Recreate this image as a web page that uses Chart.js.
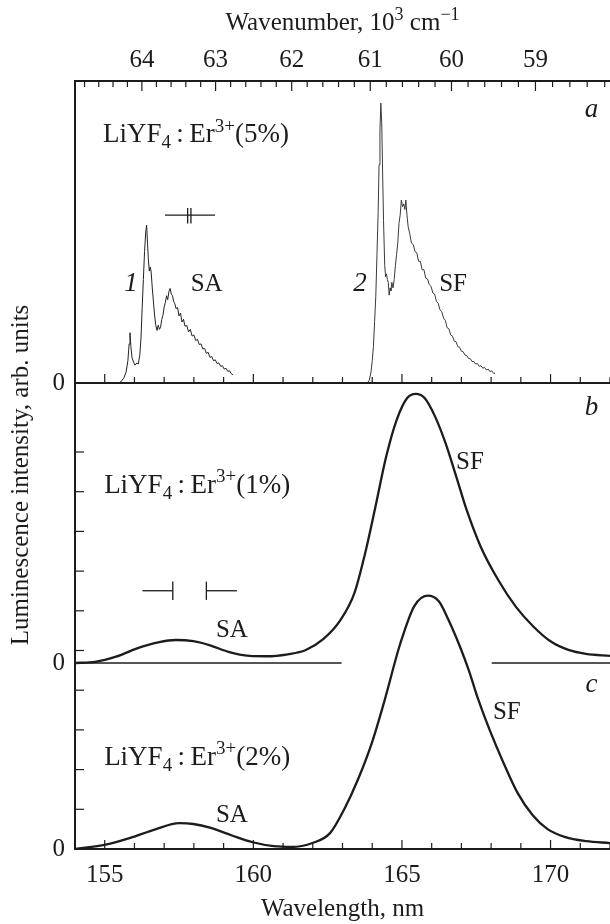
<!DOCTYPE html>
<html lang="en">
<head>
<meta charset="UTF-8" />
<title>LiYF4:Er3+ luminescence</title>
<script src="https://cdn.jsdelivr.net/npm/chart.js"></script>
<style>
  html, body { margin: 0; padding: 0; background: #fff; }
  #wrap { width: 610px; height: 924px; }
</style>
</head>
<body>
<div id="wrap"><canvas id="chart" width="610" height="924"></canvas></div>
<script>
// ---- data (wavelength in nm, intensity in arb. units) ----
// panel a, LiYF4:Er3+ (5%): curve 1 (SA) and curve 2 (SF), scaled to the peak of 2
const aWl1 = [155.45, 155.55, 155.65, 155.72, 155.78, 155.82, 155.85, 155.88, 155.92, 155.97,
  156.02, 156.08, 156.13, 156.18, 156.22, 156.26, 156.3, 156.34, 156.38, 156.41,
  156.44, 156.47, 156.5, 156.53, 156.56, 156.6, 156.64, 156.68, 156.72, 156.76,
  156.8, 156.84, 156.88, 156.92, 156.96, 157.0, 157.04, 157.08, 157.12, 157.16,
  157.2, 157.24, 157.28, 157.32, 157.36, 157.4, 157.45, 157.5, 157.55, 157.6,
  157.65, 157.7, 157.76, 157.82, 157.88, 157.94, 158.0, 158.06, 158.12, 158.18,
  158.24, 158.3, 158.36, 158.42, 158.48, 158.54, 158.6, 158.66, 158.72, 158.78,
  158.84, 158.9, 158.96, 159.02, 159.08, 159.14, 159.2, 159.26, 159.32];
const aInt1 = [0, 0.005, 0.02, 0.04, 0.08, 0.14, 0.18, 0.13, 0.09, 0.075,
  0.064, 0.072, 0.068, 0.1, 0.16, 0.27, 0.37, 0.47, 0.54, 0.564,
  0.5, 0.44, 0.4, 0.415, 0.4, 0.34, 0.29, 0.24, 0.205, 0.188,
  0.207, 0.192, 0.2, 0.228, 0.242, 0.272, 0.288, 0.312, 0.298, 0.327,
  0.338, 0.318, 0.312, 0.292, 0.283, 0.266, 0.27, 0.24, 0.25, 0.218,
  0.228, 0.203, 0.206, 0.183, 0.192, 0.168, 0.172, 0.152, 0.156, 0.138,
  0.14, 0.122, 0.124, 0.106, 0.11, 0.092, 0.095, 0.08, 0.083, 0.07,
  0.072, 0.06, 0.062, 0.05, 0.053, 0.042, 0.044, 0.033, 0.03];
const aWl2 = [163.83, 163.9, 163.96, 164.0, 164.04, 164.08, 164.12, 164.16, 164.2, 164.23,
  164.26, 164.29, 164.32, 164.35, 164.38, 164.42, 164.45, 164.48, 164.51, 164.54,
  164.57, 164.6, 164.63, 164.66, 164.7, 164.74, 164.78, 164.82, 164.86, 164.9,
  164.94, 164.98, 165.02, 165.06, 165.1, 165.13, 165.17, 165.21, 165.26, 165.32,
  165.38, 165.44, 165.5, 165.56, 165.62, 165.68, 165.74, 165.8, 165.86, 165.92,
  165.98, 166.04, 166.1, 166.16, 166.22, 166.28, 166.34, 166.4, 166.46, 166.52,
  166.58, 166.64, 166.7, 166.76, 166.82, 166.88, 166.94, 167.0, 167.06, 167.12,
  167.18, 167.24, 167.3, 167.36, 167.42, 167.48, 167.54, 167.6, 167.66, 167.72,
  167.78, 167.84, 167.9, 167.96, 168.02, 168.08, 168.13];
const aInt2 = [0, 0.01, 0.04, 0.08, 0.13, 0.22, 0.31, 0.46, 0.61, 0.78,
  0.9, 1.0, 0.93, 0.75, 0.58, 0.42, 0.38, 0.39, 0.37, 0.36,
  0.314, 0.34, 0.33, 0.36, 0.34, 0.37, 0.42, 0.46, 0.5, 0.57,
  0.6, 0.654, 0.63, 0.64, 0.62, 0.654, 0.6, 0.558, 0.535, 0.5,
  0.495, 0.47, 0.465, 0.435, 0.435, 0.405, 0.405, 0.375, 0.372, 0.352,
  0.345, 0.322, 0.318, 0.292, 0.285, 0.262, 0.255, 0.232, 0.224, 0.198,
  0.194, 0.172, 0.168, 0.15, 0.148, 0.13, 0.128, 0.114, 0.112, 0.1,
  0.098, 0.088, 0.087, 0.077, 0.077, 0.068, 0.07, 0.06, 0.062, 0.053,
  0.056, 0.047, 0.05, 0.041, 0.044, 0.035, 0.035];

// panel b, LiYF4:Er3+ (1%)
const bWl = [154.0, 154.68, 155.38, 156.09, 156.8, 157.39, 157.98, 158.57, 159.16, 159.87,
  160.45, 161.16, 161.75, 162.35, 162.93, 163.4, 163.76, 164.11, 164.47,
  164.82, 165.17, 165.47, 165.77, 166.12, 166.47, 166.83, 167.18, 167.65, 168.24,
  168.83, 169.42, 170.01, 170.6, 171.19, 172.0];
const bInt = [0, 0.03, 0.16, 0.37, 0.52, 0.58, 0.55, 0.44, 0.28, 0.18,
  0.17, 0.22, 0.32, 0.6, 1.08, 1.76, 2.76, 3.94, 5.2,
  6.12, 6.67, 6.78, 6.67, 6.2, 5.53, 4.69, 3.85, 2.93, 2.09,
  1.42, 0.92, 0.54, 0.33, 0.23, 0.18];

// panel c, LiYF4:Er3+ (2%)
const cWl = [154.0, 155.03, 155.86, 156.68, 157.51, 157.98, 158.57, 159.28, 159.98, 160.69,
  161.28, 161.99, 162.58, 163.05, 163.52, 164.0, 164.4, 164.88, 165.06, 165.41,
  165.86, 166.24, 166.56, 166.95, 167.25, 167.57, 167.95, 168.4, 168.9, 169.4,
  169.9, 170.5, 171.2, 172.0];
const cInt = [0, 0.11, 0.28, 0.49, 0.65, 0.63, 0.53, 0.34, 0.17, 0.07,
  0.05, 0.15, 0.4, 0.99, 1.75, 2.7, 3.7, 5.02, 5.44, 6.11,
  6.38, 6.24, 5.78, 5.1, 4.5, 3.76, 3.0, 2.2, 1.4, 0.85,
  0.5, 0.3, 0.2, 0.15];

// zero line of panel b, broken where curve c crosses it
const bZeroFrom = [154, 168.02];
const bZeroTo = [162.97, 172];

// interval marks over the SA bands
const aMarkWl = [157.03, 157.79, 157.9, 158.71];   // line ends and the two break bars
const bMarkWl = [156.27, 157.29, 158.42, 159.45];  // left arm, bar, bar, right arm

// axes
const wlRange = [154, 172];
const wlTicks = [155, 160, 165, 170];
const wnTicks = [64, 63, 62, 61, 60, 59];   // 10^3 cm^-1

// vertical placement of the three panels (units of each panel)
const yARange = [-1.664, 1.079];
const yBRange = [-4.685, 14.66];
const yCRange = [0, 19.345];

const INK = '#1c1c1c';
const SERIF = '"Liberation Serif", "Times New Roman", serif';

const pts = (xs, ys) => xs.map((x, i) => ({ x: x, y: ys[i] }));

function seg(x1, y1, x2, y2, axis, width, color) {
    return {
        data: [{ x: x1, y: y1 }, { x: x2, y: y2 }],
        yAxisID: axis, borderColor: color || INK, borderWidth: width,
        showLine: true, pointRadius: 0, tension: 0
    };
}

const datasets = [
    { data: pts(aWl1, aInt1), yAxisID: 'yA', borderColor: '#222', borderWidth: 1, showLine: true, pointRadius: 0, tension: 0 },
    { data: pts(aWl2, aInt2), yAxisID: 'yA', borderColor: '#3a3a3a', borderWidth: 1, showLine: true, pointRadius: 0, tension: 0 },
    { data: pts(bWl, bInt), yAxisID: 'yB', borderColor: INK, borderWidth: 2.3, showLine: true, pointRadius: 0, cubicInterpolationMode: 'monotone' },
    { data: pts(cWl, cInt), yAxisID: 'yC', borderColor: INK, borderWidth: 2.3, showLine: true, pointRadius: 0, cubicInterpolationMode: 'monotone' }
];
bZeroFrom.forEach((w, i) => datasets.push(seg(w, 0, bZeroTo[i], 0, 'yB', 2, '#555')));

// marks: panel a  ----||----
const aLev = 0.60;
datasets.push(seg(aMarkWl[0], aLev, aMarkWl[3], aLev, 'yA', 1.3));
datasets.push(seg(aMarkWl[1], aLev - 0.03, aMarkWl[1], aLev + 0.025, 'yA', 1.3));
datasets.push(seg(aMarkWl[2], aLev - 0.03, aMarkWl[2], aLev + 0.025, 'yA', 1.3));
// marks: panel b  ---|   |---
const bLev = 1.82;
datasets.push(seg(bMarkWl[0], bLev, bMarkWl[1], bLev, 'yB', 1.3));
datasets.push(seg(bMarkWl[1], bLev - 0.23, bMarkWl[1], bLev + 0.23, 'yB', 1.3));
datasets.push(seg(bMarkWl[2], bLev - 0.23, bMarkWl[2], bLev + 0.23, 'yB', 1.3));
datasets.push(seg(bMarkWl[2], bLev, bMarkWl[3], bLev, 'yB', 1.3));

// text labels, placed in data units of their panel
const formula = pct => [['LiYF', 0], ['4', -1], ['\u2009:\u2009Er', 0], ['3+', 1], ['(' + pct + ')', 0]];
const labels = [
    { axis: 'yA', x: 171.38, y: 0.95, parts: [['a', 0]], italic: true, align: 'center' },
    { axis: 'yB', x: 171.38, y: 6.25, parts: [['b', 0]], italic: true, align: 'center' },
    { axis: 'yC', x: 171.38, y: 3.95, parts: [['c', 0]], italic: true, align: 'center' },
    { axis: 'yA', x: 155.88, y: 0.33, parts: [['1', 0]], italic: true, align: 'center' },
    { axis: 'yA', x: 158.43, y: 0.33, parts: [['SA', 0]], align: 'center' },
    { axis: 'yA', x: 163.59, y: 0.33, parts: [['2', 0]], italic: true, align: 'center' },
    { axis: 'yA', x: 166.72, y: 0.33, parts: [['SF', 0]], align: 'center' },
    { axis: 'yB', x: 167.29, y: 4.88, parts: [['SF', 0]], align: 'center' },
    { axis: 'yB', x: 159.28, y: 0.66, parts: [['SA', 0]], align: 'center' },
    { axis: 'yC', x: 168.53, y: 3.28, parts: [['SF', 0]], align: 'center' },
    { axis: 'yC', x: 159.28, y: 0.69, parts: [['SA', 0]], align: 'center' },
    { axis: 'yA', x: 154.94, y: 0.86, parts: formula('5%'), align: 'left', size: 27 },
    { axis: 'yB', x: 154.98, y: 4.28, parts: formula('1%'), align: 'left', size: 27 },
    { axis: 'yC', x: 154.98, y: 2.12, parts: formula('2%'), align: 'left', size: 27 }
];

function font(size, italic) {
    return (italic ? 'italic ' : '') + size + 'px ' + SERIF;
}

// draws text with sub (-1) and superscript (1) pieces, baseline at y
function rich(ctx, parts, x, y, size, italic, align) {
    const small = Math.round(size * 0.7);
    let w = 0;
    parts.forEach(([t, s]) => { ctx.font = font(s ? small : size, italic); w += ctx.measureText(t).width; });
    let cx = align === 'center' ? x - w / 2 : x;
    parts.forEach(([t, s]) => {
        ctx.font = font(s ? small : size, italic);
        const dy = s === 1 ? -size * 0.4 : (s === -1 ? size * 0.22 : 0);
        ctx.fillText(t, cx, y + dy);
        cx += ctx.measureText(t).width;
    });
}

function line(ctx, x1, y1, x2, y2) {
    ctx.beginPath();
    ctx.moveTo(x1, y1);
    ctx.lineTo(x2, y2);
    ctx.stroke();
}

const decor = {
    id: 'decor',
    afterDraw(chart) {
        const { ctx, chartArea: ca, scales } = chart;
        const x = scales.x;
        const sep = scales.yA.getPixelForValue(0);
        ctx.save();
        ctx.strokeStyle = INK;

        // border between panel a and panels b, c
        ctx.lineWidth = 2;
        line(ctx, ca.left, sep, ca.right, sep);

        // inward ticks, every nm
        ctx.lineWidth = 1.2;
        for (let w = Math.ceil(wlRange[0]); w <= wlRange[1]; w++) {
            const px = x.getPixelForValue(w);
            const len = w % 5 === 0 ? 9 : 6;
            line(ctx, px, ca.bottom, px, ca.bottom - len);
            line(ctx, px, sep, px, sep - len);
        }
        // wavenumber ticks along the top, every 0.2
        for (let k = 650; k >= 580; k -= 2) {
            const px = x.getPixelForValue(1e4 / (k / 10));
            if (px < ca.left + 2 || px > ca.right) continue;
            const len = k % 10 === 0 ? 10 : 6;
            line(ctx, px, ca.top, px, ca.top + len);
        }
        // left ticks of panels b/c
        for (let v = 1; v <= 10; v++) {
            const py = scales.yC.getPixelForValue(v);
            line(ctx, ca.left, py, ca.left + 9, py);
        }

        // labels inside the plot
        ctx.fillStyle = INK;
        ctx.textBaseline = 'alphabetic';
        ctx.textAlign = 'left';
        labels.forEach(l => {
            const px = x.getPixelForValue(l.x);
            const py = scales[l.axis].getPixelForValue(l.y);
            rich(ctx, l.parts, px, py, l.size || (l.italic ? 27 : 25), l.italic, l.align);
        });

        // axis titles
        const mid = (ca.left + ca.right) / 2;
        rich(ctx, [['Wavelength, nm', 0]], mid, 916, 25, false, 'center');
        rich(ctx, [['Wavenumber, 10', 0], ['3', 1], [' cm', 0], ['\u22121', 1]], mid, 30, 25, false, 'center');
        ctx.translate(28, 475);
        ctx.rotate(-Math.PI / 2);
        rich(ctx, [['Luminescence intensity, arb. units', 0]], 0, 0, 25, false, 'center');
        ctx.restore();
    }
};

const tickFont = { family: SERIF, size: 25 };

new Chart(document.getElementById('chart'), {
    type: 'scatter',
    data: { datasets: datasets },
    options: {
        responsive: false,
        animation: false,
        devicePixelRatio: 1,
        layout: { padding: 0 },
        plugins: { legend: { display: false }, tooltip: { enabled: false } },
        scales: {
            x: {
                type: 'linear', position: 'bottom', min: wlRange[0], max: wlRange[1],
                afterBuildTicks: s => { s.ticks = wlTicks.map(v => ({ value: v })); },
                afterFit: s => { s.height = 75; },
                grid: { display: false, drawTicks: false },
                border: { display: true, width: 2, color: INK },
                ticks: { font: tickFont, color: INK, padding: 11, maxRotation: 0, autoSkip: false }
            },
            x2: {
                type: 'linear', position: 'top', min: wlRange[0], max: wlRange[1],
                afterBuildTicks: s => { s.ticks = wnTicks.map(v => ({ value: 1e4 / v })); },
                afterFit: s => { s.height = 81; },
                grid: { display: false, drawTicks: false },
                border: { display: true, width: 2, color: INK },
                ticks: { font: tickFont, color: INK, padding: 6, maxRotation: 0, autoSkip: false,
                    callback: v => String(Math.round(1e4 / v)) }
            },
            yA: { display: false, min: yARange[0], max: yARange[1] },
            yB: { display: false, min: yBRange[0], max: yBRange[1] },
            yC: {
                position: 'left', min: yCRange[0], max: yCRange[1],
                // the "0" of each panel, expressed on this axis
                afterBuildTicks: s => {
                    const span = yCRange[1] - yCRange[0];
                    const zeroA = -yARange[0] / (yARange[1] - yARange[0]) * span;
                    const zeroB = -yBRange[0] / (yBRange[1] - yBRange[0]) * span;
                    s.ticks = [0, zeroB, zeroA].map(v => ({ value: v }));
                },
                afterFit: s => { s.width = 75; },
                grid: { display: false, drawTicks: false },
                border: { display: true, width: 2, color: INK },
                ticks: { font: tickFont, color: INK, padding: 10, autoSkip: false, callback: () => '0' }
            }
        }
    },
    plugins: [decor]
});
</script>
</body>
</html>
